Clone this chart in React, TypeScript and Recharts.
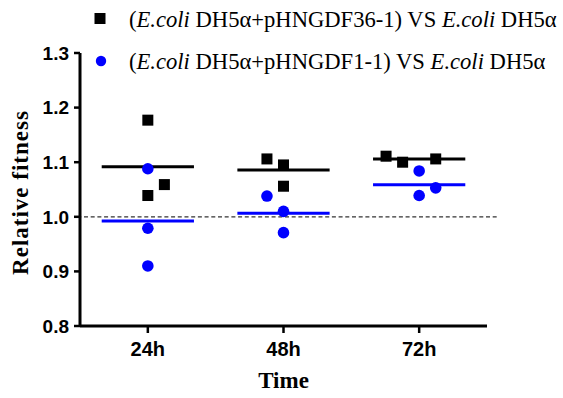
import {
  ScatterChart,
  Scatter,
  XAxis,
  YAxis,
  ReferenceLine,
  Legend,
} from "recharts";

const timePoints = ["24h", "48h", "72h"];
const yTicks = [0.8, 0.9, 1.0, 1.1, 1.2, 1.3];

// replicate values per time point
const pHNGDF36Values = [
  [1.177, 1.059, 1.039],
  [1.106, 1.095, 1.056],
  [1.111, 1.1, 1.106],
];
// horizontal jitter slot of each replicate (Prism-style scatter)
const pHNGDF36Jitter = [
  [0, 1, 0],
  [-1, 0, 0],
  [-2, -1, 1],
];

const pHNGDF1Values = [
  [1.088, 0.979, 0.91],
  [1.038, 1.01, 0.971],
  [1.084, 1.053, 1.039],
];
const pHNGDF1Jitter = [
  [0, 0, 0],
  [-1, 0, 0],
  [0, 1, 0],
];

const BLUE = "#0000ff";
const SANS = "'Liberation Sans', Arial, sans-serif";
const SERIF = "'Liberation Serif', 'Times New Roman', serif";
const JITTER_STEP = 0.122;
const MEAN_HALF = 0.34;

const toPoints = (values: number[][], jitter: number[][]) =>
  values.flatMap((reps, i) =>
    reps.map((v, j) => ({ x: i + 0.5 + jitter[i][j] * JITTER_STEP, y: v }))
  );

const mean = (arr: number[]) => arr.reduce((a, b) => a + b, 0) / arr.length;

const squareData = toPoints(pHNGDF36Values, pHNGDF36Jitter);
const circleData = toPoints(pHNGDF1Values, pHNGDF1Jitter);

const SquareShape = (props: any) => (
  <rect x={props.cx - 5.5} y={props.cy - 5.5} width={11} height={11} fill="#000" />
);
const CircleShape = (props: any) => (
  <circle cx={props.cx} cy={props.cy} r={5.8} fill={BLUE} />
);

const rowStyle = {
  display: "flex",
  alignItems: "center",
  height: 42,
  whiteSpace: "nowrap" as const,
};

const LegendContent = () => (
  <div style={{ fontFamily: SERIF, fontSize: 22.6, color: "#000", lineHeight: "42px" }}>
    <div style={rowStyle}>
      <svg width={41} height={42}>
        <rect x={6.5} y={14} width={11} height={11} fill="#000" />
      </svg>
      <span>
        (<i>E.coli</i> DH5α+pHNGDF36-1) VS <i>E.coli</i> DH5α
      </span>
    </div>
    <div style={rowStyle}>
      <svg width={41} height={42}>
        <circle cx={13} cy={20} r={5.2} fill={BLUE} />
      </svg>
      <span>
        (<i>E.coli</i> DH5α+pHNGDF1-1) VS <i>E.coli</i> DH5α
      </span>
    </div>
  </div>
);

export default function App() {
  return (
    <div style={{ position: "absolute", left: 0, top: 0, background: "#fff" }}>
      <ScatterChart
        width={563}
        height={398}
        margin={{ top: 53, right: 76, left: 20, bottom: 0 }}
      >
        <XAxis
          type="number"
          dataKey="x"
          domain={[0, 3]}
          ticks={[0.5, 1.5, 2.5]}
          tickFormatter={(v: number) => timePoints[Math.floor(v)]}
          height={72}
          axisLine={{ stroke: "#000", strokeWidth: 3 }}
          tickLine={{ stroke: "#000", strokeWidth: 2.5 }}
          tickSize={7}
          tickMargin={9}
          tick={{ fill: "#000", fontFamily: SANS, fontWeight: "bold", fontSize: 20 }}
          label={{
            content: (p: any) => (
              <text
                x={p.viewBox.x + p.viewBox.width / 2}
                y={p.viewBox.y + 62}
                textAnchor="middle"
                fontFamily={SERIF}
                fontWeight="bold"
                fontSize={23}
                fill="#000"
              >
                Time
              </text>
            ),
          }}
        />
        <YAxis
          type="number"
          dataKey="y"
          domain={[0.8, 1.3]}
          ticks={yTicks}
          tickFormatter={(v: number) => v.toFixed(1)}
          width={60}
          axisLine={{ stroke: "#000", strokeWidth: 3 }}
          tickLine={{ stroke: "#000", strokeWidth: 2.5 }}
          tickSize={6}
          tickMargin={5}
          tick={{ fill: "#000", fontFamily: SANS, fontWeight: "bold", fontSize: 19 }}
          label={{
            content: (p: any) => {
              const cy = p.viewBox.y + p.viewBox.height / 2 + 3;
              return (
                <text
                  x={28}
                  y={cy}
                  transform={`rotate(-90, 28, ${cy})`}
                  textAnchor="middle"
                  fontFamily={SERIF}
                  fontWeight="bold"
                  fontSize={23}
                  letterSpacing={1}
                  fill="#000"
                >
                  Relative fitness
                </text>
              );
            },
          }}
        />
        <ReferenceLine
          segment={[
            { x: -0.02, y: 1 },
            { x: 3.09, y: 1 },
          ]}
          ifOverflow="visible"
          stroke="#333"
          strokeWidth={1.3}
          strokeDasharray="4 2.7"
        />
        {pHNGDF36Values.map((reps, i) => (
          <ReferenceLine
            key={`m36-${i}`}
            segment={[
              { x: i + 0.5 - MEAN_HALF, y: mean(reps) },
              { x: i + 0.5 + MEAN_HALF, y: mean(reps) },
            ]}
            stroke="#000"
            strokeWidth={3}
          />
        ))}
        {pHNGDF1Values.map((reps, i) => (
          <ReferenceLine
            key={`m1-${i}`}
            segment={[
              { x: i + 0.5 - MEAN_HALF, y: mean(reps) },
              { x: i + 0.5 + MEAN_HALF, y: mean(reps) },
            ]}
            stroke={BLUE}
            strokeWidth={3}
          />
        ))}
        <Scatter
          name="pHNGDF36-1"
          data={squareData}
          shape={SquareShape}
          isAnimationActive={false}
        />
        <Scatter
          name="pHNGDF1-1"
          data={circleData}
          shape={CircleShape}
          isAnimationActive={false}
        />
        <Legend
          layout="vertical"
          align="center"
          verticalAlign="middle"
          content={LegendContent}
          wrapperStyle={{ top: -1, left: 88, width: 475, whiteSpace: "nowrap" }}
        />
      </ScatterChart>
    </div>
  );
}
